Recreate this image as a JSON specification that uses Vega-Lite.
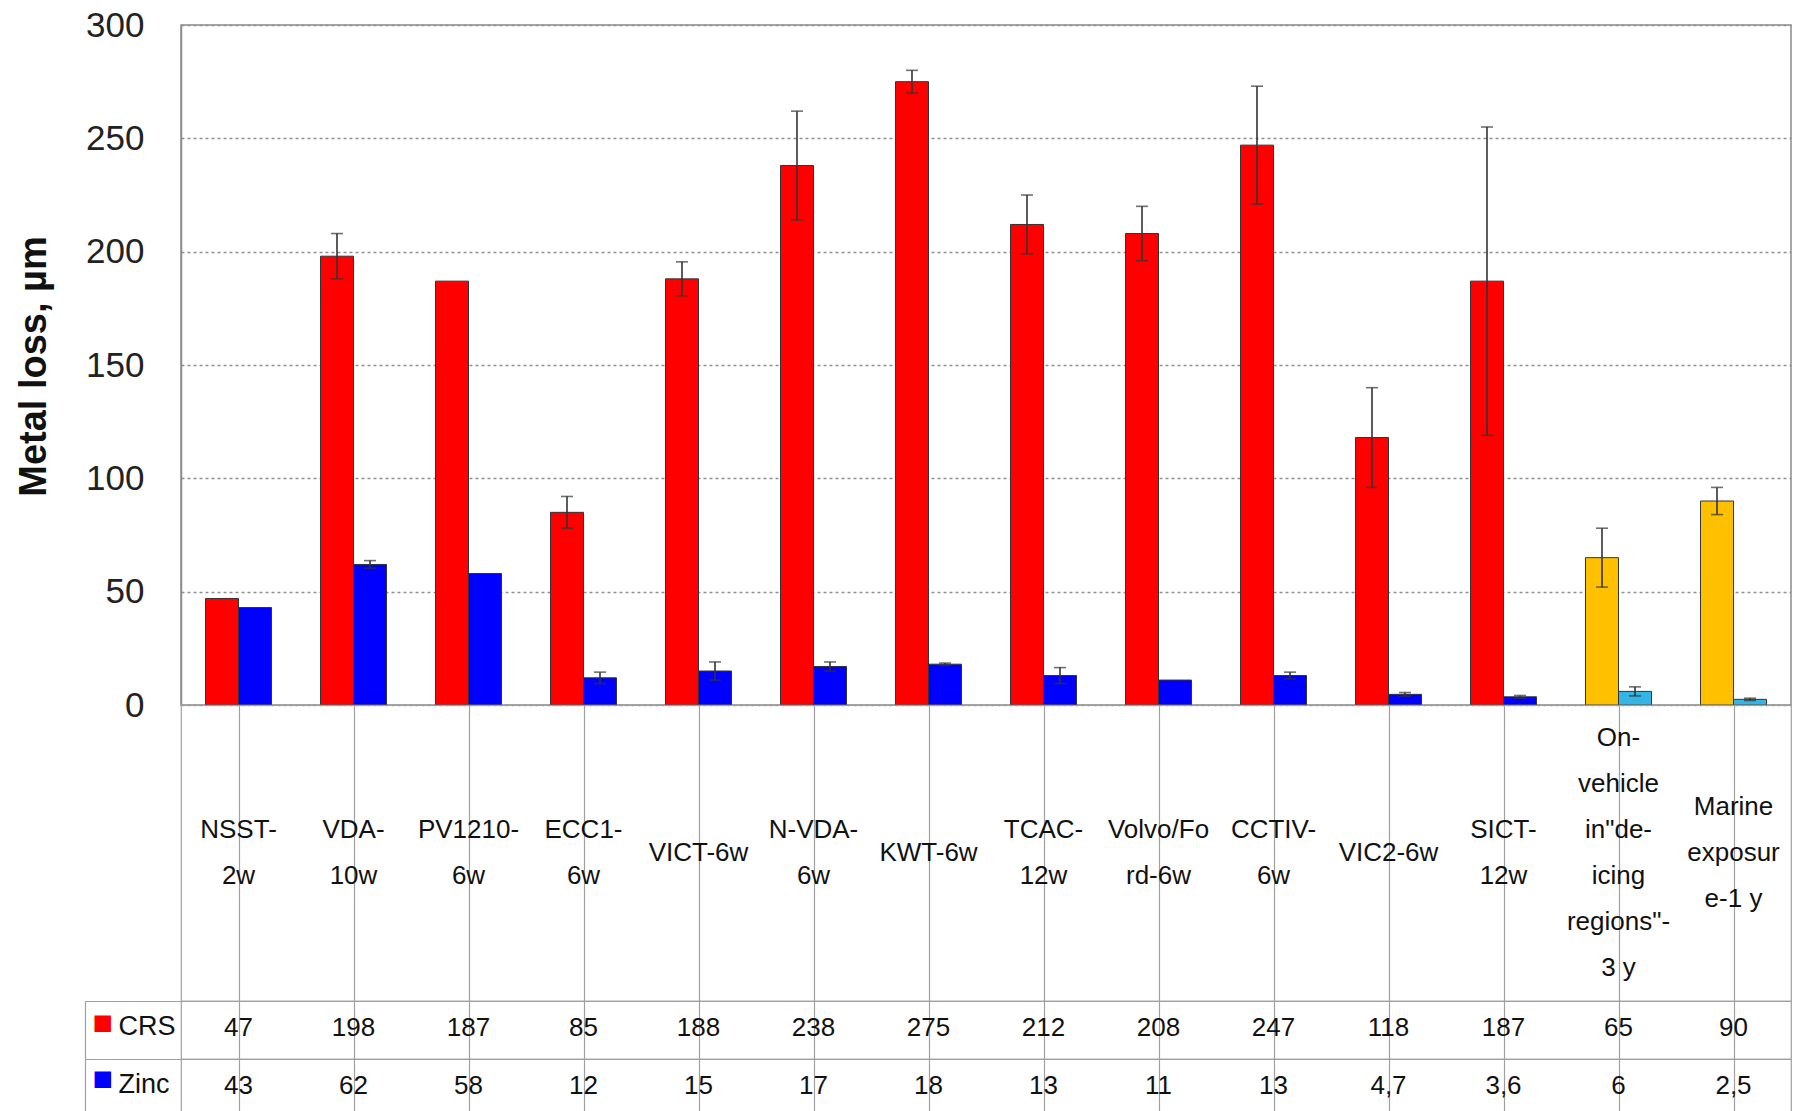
{
  "$schema": "https://vega.github.io/schema/vega-lite/v6.json",
  "padding": {"left": 14, "top": 7, "right": 6, "bottom": 0},
  "background": "white",
  "config": {
    "font": "Liberation Sans",
    "view": {"stroke": "#8c8c8c", "strokeWidth": 1.5},
    "locale": {"number": {"decimal": ",", "thousands": " ", "grouping": [3], "currency": ["", ""]}}
  },
  "datasets": {
    "bars": [
      {"test": "NSST-2w", "series": "CRS", "group": "CRS, accelerated test", "value": 47, "lo": null, "hi": null},
      {"test": "NSST-2w", "series": "Zinc", "group": "Zinc, accelerated test", "value": 43, "lo": null, "hi": null},
      {"test": "VDA-10w", "series": "CRS", "group": "CRS, accelerated test", "value": 198, "lo": 188, "hi": 208},
      {"test": "VDA-10w", "series": "Zinc", "group": "Zinc, accelerated test", "value": 62, "lo": 60.3, "hi": 63.7},
      {"test": "PV1210-6w", "series": "CRS", "group": "CRS, accelerated test", "value": 187, "lo": null, "hi": null},
      {"test": "PV1210-6w", "series": "Zinc", "group": "Zinc, accelerated test", "value": 58, "lo": null, "hi": null},
      {"test": "ECC1-6w", "series": "CRS", "group": "CRS, accelerated test", "value": 85, "lo": 78, "hi": 92},
      {"test": "ECC1-6w", "series": "Zinc", "group": "Zinc, accelerated test", "value": 12, "lo": 9.5, "hi": 14.5},
      {"test": "VICT-6w", "series": "CRS", "group": "CRS, accelerated test", "value": 188, "lo": 180.5, "hi": 195.5},
      {"test": "VICT-6w", "series": "Zinc", "group": "Zinc, accelerated test", "value": 15, "lo": 11, "hi": 19},
      {"test": "N-VDA-6w", "series": "CRS", "group": "CRS, accelerated test", "value": 238, "lo": 214, "hi": 262},
      {"test": "N-VDA-6w", "series": "Zinc", "group": "Zinc, accelerated test", "value": 17, "lo": 15, "hi": 19},
      {"test": "KWT-6w", "series": "CRS", "group": "CRS, accelerated test", "value": 275, "lo": 270, "hi": 280},
      {"test": "KWT-6w", "series": "Zinc", "group": "Zinc, accelerated test", "value": 18, "lo": 17.5, "hi": 18.5},
      {"test": "TCAC-12w", "series": "CRS", "group": "CRS, accelerated test", "value": 212, "lo": 199, "hi": 225},
      {"test": "TCAC-12w", "series": "Zinc", "group": "Zinc, accelerated test", "value": 13, "lo": 9.5, "hi": 16.5},
      {"test": "Volvo/Ford-6w", "series": "CRS", "group": "CRS, accelerated test", "value": 208, "lo": 196, "hi": 220},
      {"test": "Volvo/Ford-6w", "series": "Zinc", "group": "Zinc, accelerated test", "value": 11, "lo": null, "hi": null},
      {"test": "CCTIV-6w", "series": "CRS", "group": "CRS, accelerated test", "value": 247, "lo": 221, "hi": 273},
      {"test": "CCTIV-6w", "series": "Zinc", "group": "Zinc, accelerated test", "value": 13, "lo": 11.5, "hi": 14.5},
      {"test": "VIC2-6w", "series": "CRS", "group": "CRS, accelerated test", "value": 118, "lo": 96, "hi": 140},
      {"test": "VIC2-6w", "series": "Zinc", "group": "Zinc, accelerated test", "value": 4.7, "lo": 3.9, "hi": 5.5},
      {"test": "SICT-12w", "series": "CRS", "group": "CRS, accelerated test", "value": 187, "lo": 119, "hi": 255},
      {"test": "SICT-12w", "series": "Zinc", "group": "Zinc, accelerated test", "value": 3.6, "lo": 3, "hi": 4.2},
      {"test": "On-vehicle de-icing 3y", "series": "CRS", "group": "CRS, field exposure", "value": 65, "lo": 52, "hi": 78},
      {"test": "On-vehicle de-icing 3y", "series": "Zinc", "group": "Zinc, field exposure", "value": 6, "lo": 4, "hi": 8},
      {"test": "Marine exposure-1y", "series": "CRS", "group": "CRS, field exposure", "value": 90, "lo": 84, "hi": 96},
      {"test": "Marine exposure-1y", "series": "Zinc", "group": "Zinc, field exposure", "value": 2.5, "lo": 2, "hi": 3}
    ],
    "tests": [
      {"test": "NSST-2w", "label": ["NSST-", "2w"]},
      {"test": "VDA-10w", "label": ["VDA-", "10w"]},
      {"test": "PV1210-6w", "label": ["PV1210-", "6w"]},
      {"test": "ECC1-6w", "label": ["ECC1-", "6w"]},
      {"test": "VICT-6w", "label": ["VICT-6w"]},
      {"test": "N-VDA-6w", "label": ["N-VDA-", "6w"]},
      {"test": "KWT-6w", "label": ["KWT-6w"]},
      {"test": "TCAC-12w", "label": ["TCAC-", "12w"]},
      {"test": "Volvo/Ford-6w", "label": ["Volvo/Fo", "rd-6w"]},
      {"test": "CCTIV-6w", "label": ["CCTIV-", "6w"]},
      {"test": "VIC2-6w", "label": ["VIC2-6w"]},
      {"test": "SICT-12w", "label": ["SICT-", "12w"]},
      {"test": "On-vehicle de-icing 3y", "label": ["On-", "vehicle", "in\"de-", "icing", "regions\"-", "3 y"]},
      {"test": "Marine exposure-1y", "label": ["Marine", "exposur", "e-1 y"]}
    ]
  },
  "vconcat": [
    {
      "width": 1610,
      "height": 680,
      "data": {"name": "bars"},
      "encoding": {
        "x": {"field": "test", "type": "nominal", "sort": null, "scale": {"paddingInner": 0, "paddingOuter": 0}, "axis": null},
        "xOffset": {"field": "series", "type": "nominal", "sort": ["CRS", "Zinc"], "scale": {"paddingInner": 0, "paddingOuter": 0.742}}
      },
      "layer": [
        {
          "mark": {"type": "bar", "stroke": "#333333", "strokeWidth": 1},
          "encoding": {
            "y": {
              "field": "value", "type": "quantitative", "title": "Metal loss, µm",
              "scale": {"domain": [0, 300], "nice": false},
              "axis": {
                "values": [0, 50, 100, 150, 200, 250, 300],
                "titleFontSize": 38, "titleFontWeight": "bold", "titleColor": "#111111",
                "titleAngle": 270, "titleBaseline": "top", "titleAlign": "center", "titleX": -166, "titleY": 341,
                "labelFontSize": 35, "labelColor": "#222222", "labelPadding": 37,
                "ticks": false, "domain": true, "domainColor": "#8c8c8c", "domainWidth": 1.5,
                "grid": true, "gridColor": "#8f8f8f", "gridDash": [3, 3], "gridWidth": 1.3
              }
            },
            "color": {
              "field": "group", "type": "nominal", "legend": null,
              "scale": {
                "domain": ["CRS, accelerated test", "Zinc, accelerated test", "CRS, field exposure", "Zinc, field exposure"],
                "range": ["#ff0000", "#0000ff", "#ffc000", "#33b5e5"]
              }
            }
          }
        },
        {
          "mark": {"type": "rule", "color": "#333333", "strokeWidth": 1.6},
          "encoding": {
            "y": {"field": "lo", "type": "quantitative", "title": "Metal loss, µm"},
            "y2": {"field": "hi"}
          }
        },
        {
          "mark": {"type": "tick", "color": "#333333", "thickness": 1.6, "size": 12},
          "encoding": {"y": {"field": "hi", "type": "quantitative", "title": "Metal loss, µm"}}
        },
        {
          "mark": {"type": "tick", "color": "#333333", "thickness": 1.6, "size": 12},
          "encoding": {"y": {"field": "lo", "type": "quantitative", "title": "Metal loss, µm"}}
        }
      ]
    },
    {
      "width": 1610,
      "height": 296,
      "data": {"name": "tests"},
      "view": {"stroke": "#a0a0a0", "strokeWidth": 1.2},
      "encoding": {
        "x": {"field": "test", "type": "nominal",
              "sort": ["NSST-2w", "VDA-10w", "PV1210-6w", "ECC1-6w", "VICT-6w", "N-VDA-6w", "KWT-6w", "TCAC-12w", "Volvo/Ford-6w", "CCTIV-6w", "VIC2-6w", "SICT-12w", "On-vehicle de-icing 3y", "Marine exposure-1y"],
              "scale": {"paddingInner": 0, "paddingOuter": 0},
              "axis": {"title": null, "labels": false, "ticks": false, "domain": false, "grid": true, "bandPosition": 0, "gridColor": "#a0a0a0", "gridWidth": 1.2}},
        "text": {"field": "label", "type": "nominal"}
      },
      "layer": [
        {
          "transform": [{"filter": "length(datum.label) == 1"}],
          "mark": {"type": "text", "fontSize": 26, "lineHeight": 46, "color": "#111111", "baseline": "middle", "dy": 0}
        },
        {
          "transform": [{"filter": "length(datum.label) == 2"}],
          "mark": {"type": "text", "fontSize": 26, "lineHeight": 46, "color": "#111111", "baseline": "middle", "dy": -23}
        },
        {
          "transform": [{"filter": "length(datum.label) == 3"}],
          "mark": {"type": "text", "fontSize": 26, "lineHeight": 46, "color": "#111111", "baseline": "middle", "dy": -46}
        },
        {
          "transform": [{"filter": "length(datum.label) == 6"}],
          "mark": {"type": "text", "fontSize": 26, "lineHeight": 46, "color": "#111111", "baseline": "middle", "dy": -115}
        }
      ]
    },
    {
      "width": 1610,
      "height": 58,
      "data": {"name": "bars"},
      "transform": [{"filter": "datum.series === 'CRS'"}],
      "view": {"stroke": "#a0a0a0", "strokeWidth": 1.2},
      "encoding": {
        "x": {"field": "test", "type": "nominal", "sort": null, "scale": {"paddingInner": 0, "paddingOuter": 0},
              "axis": {"title": null, "labels": false, "ticks": false, "domain": false, "grid": true, "bandPosition": 0, "gridColor": "#a0a0a0", "gridWidth": 1.2}},
        "text": {"field": "value", "type": "quantitative", "format": "~g"}
      },
      "layer": [
        {
          "mark": {"type": "text", "fontSize": 26, "color": "#111111", "dy": -2},
          "encoding": {
            "y": {"field": "series", "type": "nominal", "scale": {"type": "band", "paddingInner": 0, "paddingOuter": 0},
                  "axis": {"orient": "left", "title": null, "domain": false, "ticks": true, "tickBand": "extent", "tickSize": 96, "tickColor": "#a0a0a0", "tickWidth": 1.2,
                           "labelAlign": "left", "labelBaseline": "middle", "labelPadding": -33, "labelOffset": -4, "labelFontSize": 27, "labelColor": "#111111"}}
          }
        },
        {
          "mark": {"type": "text", "fontSize": 26, "opacity": 0},
          "encoding": {
            "y": {"field": "series", "type": "nominal", "scale": {"type": "band", "paddingInner": 0, "paddingOuter": 0},
                  "axis": {"orient": "left", "title": null, "offset": 96, "domain": true, "domainColor": "#a0a0a0", "domainWidth": 1.2, "ticks": false,
                           "labelAlign": "left", "labelBaseline": "middle", "labelPadding": -7, "labelOffset": -6, "labelExpr": "'■'", "labelFontSize": 34, "labelColor": "#ff0000"}}
          }
        }
      ],
      "resolve": {"scale": {"y": "independent"}}
    },
    {
      "width": 1610,
      "height": 54,
      "data": {"name": "bars"},
      "transform": [{"filter": "datum.series === 'Zinc'"}],
      "view": {"stroke": "#a0a0a0", "strokeWidth": 1.2},
      "encoding": {
        "x": {"field": "test", "type": "nominal", "sort": null, "scale": {"paddingInner": 0, "paddingOuter": 0},
              "axis": {"title": null, "labels": false, "ticks": false, "domain": false, "grid": true, "bandPosition": 0, "gridColor": "#a0a0a0", "gridWidth": 1.2}},
        "text": {"field": "value", "type": "quantitative", "format": "~g"}
      },
      "layer": [
        {
          "mark": {"type": "text", "fontSize": 26, "color": "#111111"},
          "encoding": {
            "y": {"field": "series", "type": "nominal", "scale": {"type": "band", "paddingInner": 0, "paddingOuter": 0},
                  "axis": {"orient": "left", "title": null, "domain": false, "ticks": true, "tickBand": "extent", "tickSize": 96, "tickColor": "#a0a0a0", "tickWidth": 1.2,
                           "labelAlign": "left", "labelBaseline": "middle", "labelPadding": -33, "labelOffset": -2, "labelFontSize": 27, "labelColor": "#111111"}}
          }
        },
        {
          "mark": {"type": "text", "fontSize": 26, "opacity": 0},
          "encoding": {
            "y": {"field": "series", "type": "nominal", "scale": {"type": "band", "paddingInner": 0, "paddingOuter": 0},
                  "axis": {"orient": "left", "title": null, "offset": 96, "domain": true, "domainColor": "#a0a0a0", "domainWidth": 1.2, "ticks": false,
                           "labelAlign": "left", "labelBaseline": "middle", "labelPadding": -7, "labelOffset": -6, "labelExpr": "'■'", "labelFontSize": 34, "labelColor": "#0000ff"}}
          }
        }
      ],
      "resolve": {"scale": {"y": "independent"}}
    }
  ],
  "spacing": 0,
  "bounds": "flush"
}
